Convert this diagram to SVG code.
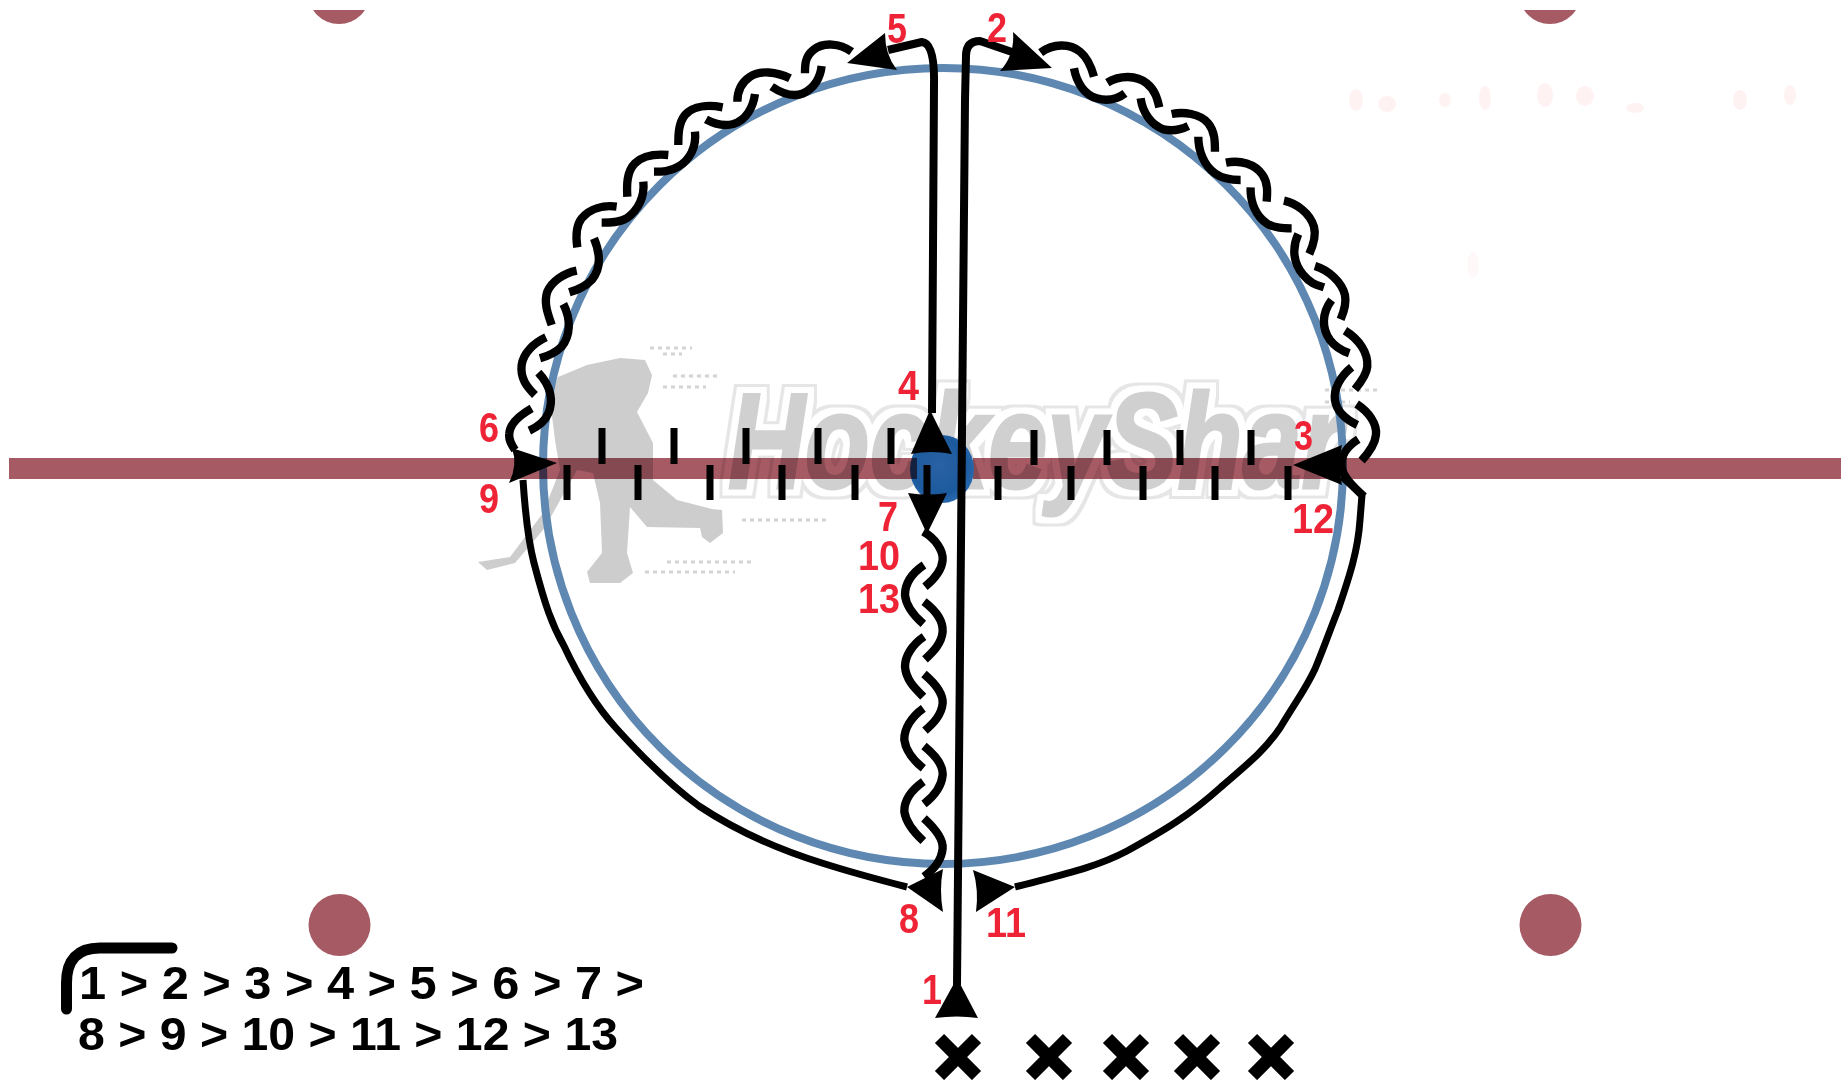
<svg xmlns="http://www.w3.org/2000/svg" width="1841" height="1080" viewBox="0 0 1841 1080">
<style>
.rink{fill:#a65a64}
.line{fill:none;stroke:#000;stroke-width:8;stroke-linejoin:round}
.thin{stroke-width:7}
.wave{fill:none;stroke:#000;stroke-width:25;stroke-linecap:butt}
.head{fill:#000}
.tick{stroke:#000;stroke-width:7}
.lab{font-family:"Liberation Sans",Arial,sans-serif;font-size:42px;font-weight:700;fill:#ee2436}
.seq{font-family:"Liberation Sans",Arial,sans-serif;font-size:47px;font-weight:700;fill:#000}
.wm{font-family:"Liberation Sans",Arial,sans-serif;font-size:136px;font-weight:700;font-style:italic;fill:#d0d0d0;stroke:#d0d0d0;stroke-width:3}
.x{stroke:#000;stroke-width:13;fill:none}
.dots{fill:none;stroke:#d4d4d4;stroke-width:3;stroke-dasharray:4 4}
</style>
<defs>
<radialGradient id="puck" cx=".45" cy=".45" r=".6"><stop offset="0" stop-color="#2a62a4"/><stop offset=".7" stop-color="#1c5a9e"/><stop offset="1" stop-color="#2b6cb0"/></radialGradient>
<g id="cross"><path class="x" d="M-18.5,-18.5L18.5,18.5M18.5,-18.5L-18.5,18.5"/></g>
<clipPath id="capclip"><rect x="0" y="10" width="1841" height="40"/></clipPath>
<filter id="halo" filterUnits="userSpaceOnUse" x="680" y="340" width="720" height="220">
<feMorphology in="SourceAlpha" operator="dilate" radius="9" result="a"/>
<feFlood flood-color="#e6e6e6"/><feComposite in2="a" operator="in" result="b"/>
<feMorphology in="SourceAlpha" operator="dilate" radius="6" result="c"/>
<feFlood flood-color="#ffffff"/><feComposite in2="c" operator="in" result="d"/>
<feMerge><feMergeNode in="b"/><feMergeNode in="d"/><feMergeNode in="SourceGraphic"/></feMerge>
</filter>
</defs>

<g id="watermark">
<text class="wm" x="728" y="488" textLength="615" lengthAdjust="spacingAndGlyphs" filter="url(#halo)">HockeyShar</text>
<path class="dots" d="M650,348H692M663,354H682M673,376H720M663,387H706M742,520H828M667,562H752M645,572H735M1325,390H1380M1325,402H1350"/>
<path fill="#cdcdcd" d="M558,377L587,365L620,358L645,360L652,375L648,393L637,412L653,443L653,480L677,500L712,509L722,510L723,533L710,543L702,537L700,528L647,527L630,507L627,553L633,573L620,583L590,583L587,572L602,553L600,503L593,473L577,470L553,513L543,530L515,563L487,570L478,562L510,557L543,513L560,470L555,440L550,400Z"/>
</g>

<g id="smudges" fill="#fff2f3">
<ellipse cx="1356" cy="100" rx="7" ry="11"/><ellipse cx="1387" cy="104" rx="9" ry="8"/><ellipse cx="1445" cy="100" rx="6" ry="7"/><ellipse cx="1485" cy="98" rx="6" ry="12"/><ellipse cx="1545" cy="95" rx="8" ry="12"/><ellipse cx="1585" cy="96" rx="9" ry="10"/><ellipse cx="1635" cy="108" rx="9" ry="5"/><ellipse cx="1740" cy="100" rx="7" ry="10"/><ellipse cx="1790" cy="95" rx="6" ry="10"/><ellipse cx="1473" cy="265" rx="6" ry="13" opacity=".5"/>
</g>

<g id="faceoff-circle"><ellipse cx="943" cy="466" rx="400" ry="398" fill="none" stroke="#5e88b2" stroke-width="8"/></g>

<g id="center-line-right"><rect class="rink" x="973" y="458" width="868" height="21" style="mix-blend-mode:multiply"/></g>
<g id="center-dot"><ellipse cx="942" cy="469" rx="32" ry="34" fill="url(#puck)"/></g>
<g id="center-line-left"><rect class="rink" x="9" y="458" width="908" height="21" style="mix-blend-mode:multiply"/></g>

<g id="dots">
<circle class="rink" cx="339.500" cy="925" r="31"/>
<circle class="rink" cx="1550.500" cy="925" r="31"/>
<g clip-path="url(#capclip)"><circle class="rink" cx="339" cy="-7" r="31"/><circle class="rink" cx="1550" cy="-7" r="31"/></g>
</g>

<g id="ticks">
<path class="tick" d="M602,428V464M674,428V464M746,428V464M818,428V464M891,428V464M1034,430V465M1107,430V465M1180,430V465M1251,430V465"/>
<path class="tick" d="M567,465V500M638,465V500M710,465V500M782,465V500M855,465V500M927,465V500M998,466V500M1071,466V500M1143,466V500M1215,466V500M1288,466V500"/>
</g>

<g id="connectors">
<path class="line" d="M957,985L965,100L966,56Q966,41 980,41L1012,52"/>
<path class="line" d="M932,413L934,85Q935,43 922,42L888,50"/>
<path class="line thin" d="M523,480C525,510 528,540 534,563C545,605 552,625 564,646C580,680 595,705 616,728C645,760 670,785 699,806C735,830 780,850 822,863C850,872 880,880 907,887"/>
<path class="line thin" d="M1015,887C1060,875 1095,868 1127,851C1165,830 1190,815 1221,787C1250,762 1265,750 1280,728C1300,695 1305,690 1315,669C1325,645 1330,630 1338,610C1350,575 1358,550 1360,520L1362,495L1342,477"/>

<g id="wave-left" transform="translate(480,0) scale(.3333)">
<path class="wave" d="M1115,155C1080,130 1030,125 1000,150C975,170 975,195 975,220"/>
<path class="wave" d="M1025,198C1020,240 1000,265 970,280C940,292 905,280 875,260"/>
<path class="wave" d="M930,235C890,215 840,210 810,230C780,250 772,280 772,305"/>
<path class="wave" d="M825,282C820,320 800,360 760,372C730,380 700,370 678,358"/>
<path class="wave" d="M728,322C690,315 640,315 615,345C595,370 595,405 595,435"/>
<path class="wave" d="M645,395C650,440 630,480 595,500C570,515 545,515 522,515"/>
<path class="wave" d="M565,465C530,462 490,465 465,490C440,515 440,555 442,590"/>
<path class="wave" d="M490,545C495,590 475,630 440,655C420,668 390,668 365,668"/>
<path class="wave" d="M410,620C370,615 330,625 305,655C285,680 288,715 292,742"/>
<path class="wave" d="M342,715C365,770 360,810 335,840C315,862 290,870 268,877"/>
<path class="wave" d="M290,812C250,820 215,845 202,875C190,910 205,945 215,975"/>
<path class="wave" d="M250,912C275,960 270,1010 245,1040C225,1060 205,1068 180,1075"/>
<path class="wave" d="M198,1012C160,1030 130,1060 125,1095C120,1135 140,1160 165,1185"/>
<path class="wave" d="M175,1118C215,1160 220,1205 205,1240C195,1265 170,1282 148,1292"/>
<path class="wave" d="M155,1225C120,1245 90,1270 88,1300C85,1320 95,1335 105,1350"/>
</g>

<g id="wave-right" transform="translate(920,0) scale(.3333)">
<path class="wave" d="M362,158C400,130 450,130 480,155C505,175 515,205 522,230"/>
<path class="wave" d="M462,205C470,250 495,285 530,295C565,305 595,295 615,280"/>
<path class="wave" d="M562,248C600,225 650,225 680,250C705,270 712,295 718,322"/>
<path class="wave" d="M662,295C668,340 695,375 730,388C760,395 785,388 805,378"/>
<path class="wave" d="M755,342C790,335 840,340 865,370C885,395 885,425 885,455"/>
<path class="wave" d="M835,410C835,450 850,495 885,520C905,535 940,540 962,540"/>
<path class="wave" d="M918,488C960,480 1005,490 1028,525C1045,550 1042,580 1040,605"/>
<path class="wave" d="M992,562C990,610 1010,650 1040,670C1065,685 1090,685 1115,685"/>
<path class="wave" d="M1092,602C1130,610 1170,640 1182,680C1190,710 1178,740 1168,762"/>
<path class="wave" d="M1135,702C1115,745 1120,790 1150,825C1170,850 1190,855 1212,862"/>
<path class="wave" d="M1185,798C1225,810 1265,845 1275,885C1280,910 1272,935 1262,958"/>
<path class="wave" d="M1235,900C1205,940 1205,985 1230,1020C1245,1040 1265,1052 1288,1060"/>
<path class="wave" d="M1275,992C1320,1020 1345,1060 1342,1100C1340,1125 1320,1150 1305,1168"/>
<path class="wave" d="M1295,1102C1260,1130 1240,1170 1245,1200C1250,1235 1280,1260 1312,1275"/>
<path class="wave" d="M1310,1212C1345,1235 1372,1270 1368,1305C1365,1335 1345,1360 1325,1382"/>
<path class="wave" d="M1315,1318C1280,1340 1262,1370 1265,1400C1268,1430 1300,1460 1332,1490"/>
</g>

<g id="wave-center" transform="translate(860,500) scale(.3333)">
<path class="wave" d="M190,95C225,115 250,150 248,180C245,215 220,240 195,260"/>
<path class="wave" d="M192,195C155,220 135,250 135,285C138,320 165,350 190,372"/>
<path class="wave" d="M192,305C225,330 250,360 248,395C245,430 220,455 195,478"/>
<path class="wave" d="M192,410C155,435 135,470 135,500C138,540 165,565 190,590"/>
<path class="wave" d="M192,522C225,550 250,580 248,610C245,645 220,670 195,692"/>
<path class="wave" d="M190,625C155,650 132,685 133,720C138,755 165,785 190,805"/>
<path class="wave" d="M192,738C225,765 250,795 248,825C245,860 220,890 192,912"/>
<path class="wave" d="M190,845C155,870 132,900 133,935C138,970 165,1000 190,1023"/>
<path class="wave" d="M192,955C225,985 250,1015 248,1045C245,1080 220,1110 192,1130"/>
</g>

<g id="arrowheads">
<path class="head" d="M957,978L935,1018Q957,1015 978,1018Z"/>
<path class="head" d="M1052,68L1013,32Q1015,55 1000,71Z"/>
<path class="head" d="M847,63L885,33Q885,55 897,70Z"/>
<path class="head" d="M930,410L911,454Q931,450 952,454Z"/>
<path class="head" d="M927,534L908,493Q928,496 947,493Z"/>
<path class="head" d="M557,463L512,448Q518,465 509,483Z"/>
<path class="head" d="M1293,465L1342,445Q1337,465 1342,485Z"/>
<path class="head" d="M907,887L943,869Q939,890 943,912Z"/>
<path class="head" d="M1015,887L973,870Q979,890 976,912Z"/>
</g>
</g>

<g id="labels">
<text class="lab" x="887" y="43" textLength="20" lengthAdjust="spacingAndGlyphs">5</text>
<text class="lab" x="987" y="42" textLength="20" lengthAdjust="spacingAndGlyphs">2</text>
<text class="lab" x="898" y="400" textLength="21" lengthAdjust="spacingAndGlyphs">4</text>
<text class="lab" x="479" y="442" textLength="20" lengthAdjust="spacingAndGlyphs">6</text>
<text class="lab" x="479" y="513" textLength="20" lengthAdjust="spacingAndGlyphs">9</text>
<text class="lab" x="1294" y="450" textLength="19" lengthAdjust="spacingAndGlyphs">3</text>
<text class="lab" x="1292" y="533" textLength="42" lengthAdjust="spacingAndGlyphs">12</text>
<text class="lab" x="878" y="531" textLength="20" lengthAdjust="spacingAndGlyphs">7</text>
<text class="lab" x="858" y="570" textLength="42" lengthAdjust="spacingAndGlyphs">10</text>
<text class="lab" x="858" y="613" textLength="42" lengthAdjust="spacingAndGlyphs">13</text>
<text class="lab" x="899" y="933" textLength="20" lengthAdjust="spacingAndGlyphs">8</text>
<text class="lab" x="986" y="937" textLength="40" lengthAdjust="spacingAndGlyphs">11</text>
<text class="lab" x="922" y="1004" textLength="20" lengthAdjust="spacingAndGlyphs">1</text>
</g>

<g id="players">
<use href="#cross" x="958" y="1057"/>
<use href="#cross" x="1049" y="1057"/>
<use href="#cross" x="1126" y="1057"/>
<use href="#cross" x="1197" y="1057"/>
<use href="#cross" x="1271" y="1057"/>
</g>

<g id="sequence">
<path d="M66.500,1009V983Q66.500,948 100,948H172" fill="none" stroke="#000" stroke-width="11" stroke-linecap="round"/>
<text class="seq" x="79" y="999" textLength="565" lengthAdjust="spacingAndGlyphs">1 &gt; 2 &gt; 3 &gt; 4 &gt; 5 &gt; 6 &gt; 7 &gt;</text>
<text class="seq" x="78" y="1050" textLength="540" lengthAdjust="spacingAndGlyphs">8 &gt; 9 &gt; 10 &gt; 11 &gt; 12 &gt; 13</text>
</g>
</svg>
